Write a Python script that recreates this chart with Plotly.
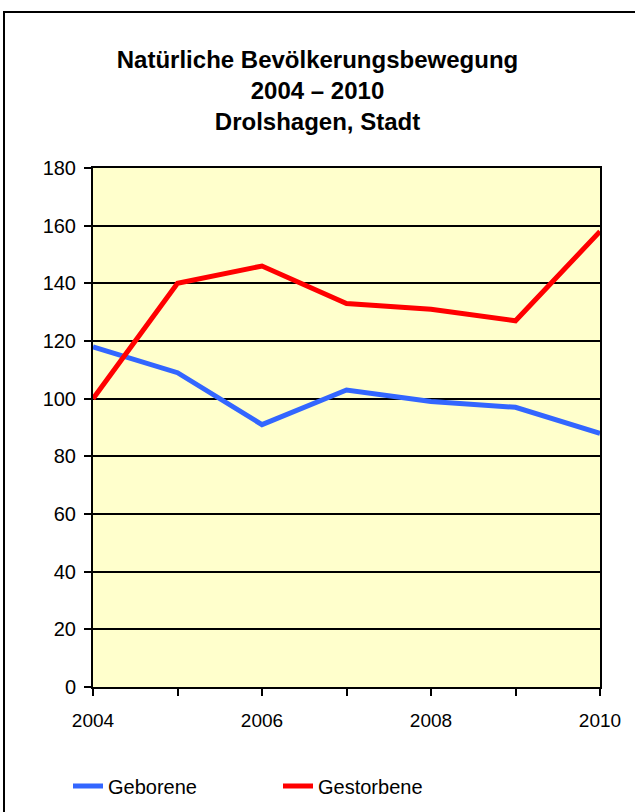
import plotly.graph_objects as go

years = [2004, 2005, 2006, 2007, 2008, 2009, 2010]
geborene = [118, 109, 91, 103, 99, 97, 88]
gestorbene = [100, 140, 146, 133, 131, 127, 158]
title_lines = ["Natürliche Bevölkerungsbewegung", "2004 – 2010", "Drolshagen, Stadt"]

FONT = "Liberation Sans, Arial, sans-serif"

fig = go.Figure()
fig.add_trace(go.Scatter(x=years, y=geborene, mode="lines", name="Geborene",
                         line=dict(color="#3366FF", width=5)))
fig.add_trace(go.Scatter(x=years, y=gestorbene, mode="lines", name="Gestorbene",
                         line=dict(color="#FF0000", width=5)))

fig.update_layout(
    width=635, height=812,
    margin=dict(l=93, r=35, t=168, b=125, autoexpand=False),
    paper_bgcolor="white",
    plot_bgcolor="#FFFFCC",
    font=dict(family=FONT, color="black", size=18),
    title=dict(text="<br>".join(title_lines), x=0.5, xanchor="center",
               xref="container", y=1 - 68 / 812, yanchor="top",
               font=dict(family=FONT, size=24, color="black", weight="bold")),
    showlegend=True,
    legend=dict(orientation="h", xref="container", x=68 / 635, xanchor="left",
                yref="container", y=(812 - 786) / 812, yanchor="middle",
                font=dict(size=20, family=FONT), entrywidth=165, entrywidthmode="pixels",
                bgcolor="rgba(0,0,0,0)"),
)
fig.update_xaxes(range=[2004, 2010], dtick=2, tick0=2004, ticks="outside", ticklen=7,
                 tickwidth=2, tickcolor="black", showgrid=False, showline=True,
                 linecolor="black", linewidth=2, mirror=True, zeroline=False,
                 minor=dict(dtick=1, ticks="outside", ticklen=7, tickwidth=2,
                            tickcolor="black", showgrid=False),
                 tickfont=dict(size=19), ticklabelstandoff=8)
fig.update_yaxes(range=[0, 180], dtick=20, ticks="outside", ticklen=7, tickwidth=2,
                 tickcolor="black", showgrid=True, gridcolor="black", gridwidth=2,
                 showline=True, linecolor="black", linewidth=2, mirror=True,
                 zeroline=False, tickfont=dict(size=20), ticklabelstandoff=4)

# outer chart frame
fig.add_shape(type="rect", xref="paper", yref="paper",
              x0=(4 - 93) / 507, x1=1.2, y0=-0.4, y1=(687 - 12) / 519,
              line=dict(color="black", width=2), layer="below")

fig.write_html("out.html", config={"displayModeBar": False},
               post_script="document.body.style.margin='0';document.body.style.overflow='hidden';")
